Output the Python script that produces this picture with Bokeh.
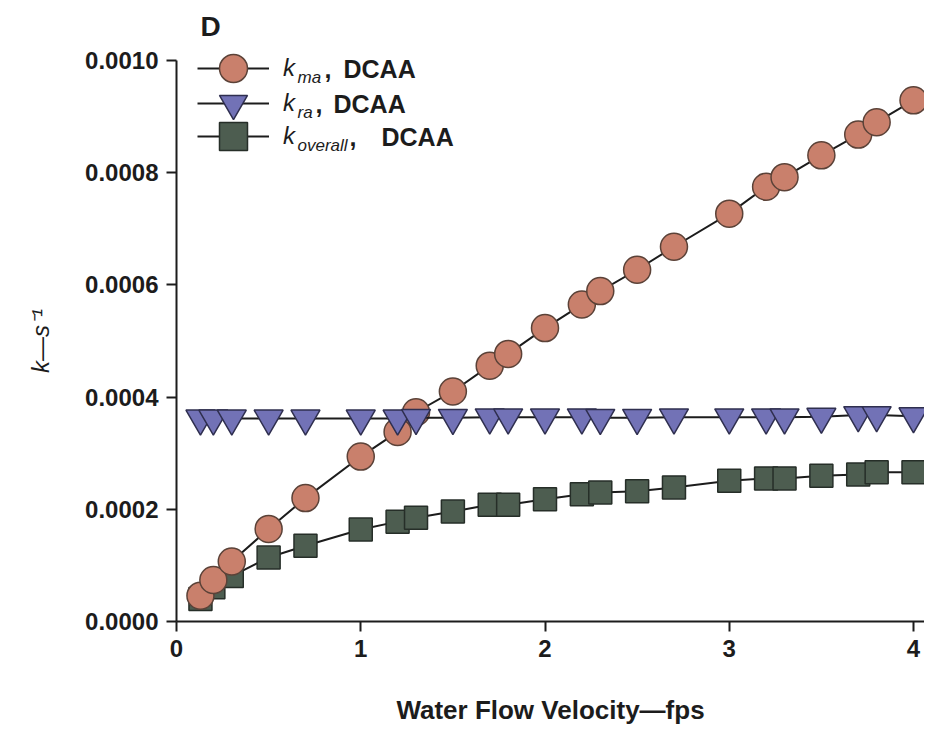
from bokeh.plotting import figure
from bokeh.models import Range1d, NumeralTickFormatter, FixedTicker, Legend, LegendItem, Label
from bokeh.embed import file_html
from bokeh.resources import INLINE

# ---------------- data ----------------
velocity = [0.13, 0.2, 0.3, 0.5, 0.7, 1.0, 1.2, 1.3, 1.5, 1.7, 1.8, 2.0,
            2.2, 2.3, 2.5, 2.7, 3.0, 3.2, 3.3, 3.5, 3.7, 3.8, 4.0]
k_ma = [0.000046, 0.000074, 0.000107, 0.000165, 0.000220, 0.000294, 0.000338,
        0.000373, 0.000410, 0.000456, 0.000477, 0.000523, 0.000565, 0.000589,
        0.000627, 0.000668, 0.000727, 0.000775, 0.000792, 0.000831, 0.000868,
        0.000890, 0.000929]
k_ra = [0.000362, 0.000362, 0.000362, 0.000362, 0.000362, 0.000362, 0.000362,
        0.000363, 0.000363, 0.000364, 0.000364, 0.000364, 0.000364, 0.000363,
        0.000363, 0.000364, 0.000364, 0.000364, 0.000364, 0.000365, 0.000368,
        0.000368, 0.000366]
k_overall = [0.000040, 0.000061, 0.000081, 0.000114, 0.000135, 0.000164, 0.000178,
             0.000185, 0.000196, 0.000208, 0.000208, 0.000218, 0.000227, 0.000230,
             0.000232, 0.000239, 0.000251, 0.000255, 0.000255, 0.000260, 0.000262,
             0.000266, 0.000266]
x_ticks = [0, 1, 2, 3, 4]
y_ticks = [0.0, 0.0002, 0.0004, 0.0006, 0.0008, 0.0010]
y_axis_span = (0.0, 0.0010)
legend_subscripts = ["ma", "ra", "overall"]
legend_name = "DCAA"
panel_letter = "D"
x_title = "Water Flow Velocity\u2014fps"
y_title = "k\u2014s\u207b\u00b9"

# ---------------- layout (pixels, image coordinates) ----------------
W, H = 924, 725
AXIS_X_PX, X_PX_PER_UNIT = 176, 184.25   # column of x = 0, px per unit
AXIS_Y_PX, TOP_TICK_PX = 621, 60         # rows of y = 0 and y = 0.0010
y_px_per_unit = (AXIS_Y_PX - TOP_TICK_PX) / (y_axis_span[1] - y_axis_span[0])
x_lo = -AXIS_X_PX / X_PX_PER_UNIT
x_hi = (W - AXIS_X_PX) / X_PX_PER_UNIT
y_hi = y_axis_span[1] + TOP_TICK_PX / y_px_per_unit
y_lo = y_axis_span[0] - (H - AXIS_Y_PX) / y_px_per_unit


def fy(img_y):
    """screen offset from the frame bottom for an image row"""
    return H - img_y


# ---------------- styles ----------------
INK = "#1c1c1c"
C_MA, E_MA = "#c9806c", "#5b4238"
C_RA, E_RA = "#7272b6", "#2f2f4f"
C_OV, E_OV = "#4d5d50", "#262e28"
FONT = "Liberation Sans"

p = figure(width=W, height=H, output_backend="svg", toolbar_location=None,
           x_range=Range1d(x_lo, x_hi), y_range=Range1d(y_lo, y_hi),
           min_border_left=0, min_border_right=0,
           min_border_top=0, min_border_bottom=0)
p.outline_line_color = None
p.grid.visible = False
p.background_fill_color = "white"
p.border_fill_color = "white"

for ax in (p.xaxis[0], p.yaxis[0]):
    ax.fixed_location = 0
    ax.axis_line_width = 2
    ax.axis_line_color = INK
    ax.major_tick_line_width = 2
    ax.major_tick_line_color = INK
    ax.major_tick_out = 10
    ax.major_tick_in = 0
    ax.minor_tick_line_color = None
    ax.major_label_text_font = FONT
    ax.major_label_text_font_style = "bold"
    ax.major_label_text_font_size = "24px"
    ax.major_label_text_color = INK
    ax.major_label_standoff = 8
    ax.axis_label_text_font = FONT
    ax.axis_label_text_color = INK

p.xaxis.ticker = FixedTicker(ticks=x_ticks)
p.xaxis.bounds = (0, x_hi)
p.yaxis.ticker = FixedTicker(ticks=y_ticks)
p.yaxis.bounds = y_axis_span
p.yaxis.formatter = NumeralTickFormatter(format="0.0000")

p.xaxis.axis_label = x_title
p.xaxis.axis_label_text_font_size = "26px"
p.xaxis.axis_label_text_font_style = "bold"
p.xaxis.axis_label_standoff = 35

p.yaxis.axis_label = y_title
p.yaxis.axis_label_text_font_size = "24px"
p.yaxis.axis_label_text_font_style = "italic"
p.yaxis.axis_label_standoff = 28

# panel letter
p.add_layout(Label(x=200, y=fy(26), x_units="screen", y_units="screen",
                   text=panel_letter, text_font=FONT, text_font_size="28px",
                   text_font_style="bold", text_color=INK,
                   text_align="left", text_baseline="alphabetic"))

# ---------------- series ----------------
l_ov = p.line(velocity, k_overall, line_color=INK, line_width=2)
s_ov = p.scatter(velocity, k_overall, marker="square", size=23,
                 fill_color=C_OV, line_color=E_OV, line_width=1.5)
l_ma = p.line(velocity, k_ma, line_color=INK, line_width=2)
s_ma = p.scatter(velocity, k_ma, marker="circle", size=27,
                 fill_color=C_MA, line_color=E_MA, line_width=1.5)
l_ra = p.line(velocity, k_ra, line_color=INK, line_width=2)
s_ra = p.scatter(velocity, k_ra, marker="inverted_triangle", size=29,
                 fill_color=C_RA, line_color=E_RA, line_width=1.5)

# ---------------- legend (one box per row) ----------------
glyph_w, glyph_h = 72, 70
row_rows = [68, 103, 136]              # image rows of the legend entries
row_renderers = [[l_ma, s_ma], [l_ra, s_ra], [l_ov, s_ov]]
sub_img_x = 297
comma_img_x = [324, 315, 349]
name_img_x = [343, 333, 381]

for i, sub in enumerate(legend_subscripts):
    cy = fy(row_rows[i])
    leg = Legend(
        items=[LegendItem(label="k", renderers=row_renderers[i])],
        location=(197, cy - glyph_h / 2),
        orientation="vertical",
        glyph_width=glyph_w, glyph_height=glyph_h, label_height=glyph_h,
        spacing=0, padding=0, margin=0, label_standoff=14,
        border_line_color=None, background_fill_alpha=0,
        label_text_font=FONT, label_text_font_size="24px",
        label_text_font_style="italic", label_text_color=INK,
    )
    p.add_layout(leg)
    p.add_layout(Label(x=sub_img_x, y=cy - 9, x_units="screen", y_units="screen",
                       text=sub, text_font=FONT, text_font_size="17px",
                       text_font_style="italic", text_color=INK,
                       text_baseline="middle", text_align="left"))
    p.add_layout(Label(x=comma_img_x[i], y=cy, x_units="screen", y_units="screen",
                       text=",", text_font=FONT, text_font_size="25px",
                       text_font_style="bold", text_color=INK,
                       text_baseline="middle", text_align="left"))
    p.add_layout(Label(x=name_img_x[i], y=cy, x_units="screen", y_units="screen",
                       text=legend_name, text_font=FONT, text_font_size="25px",
                       text_font_style="bold", text_color=INK,
                       text_baseline="middle", text_align="left"))

open("out.html", "w").write(file_html(p, INLINE))
